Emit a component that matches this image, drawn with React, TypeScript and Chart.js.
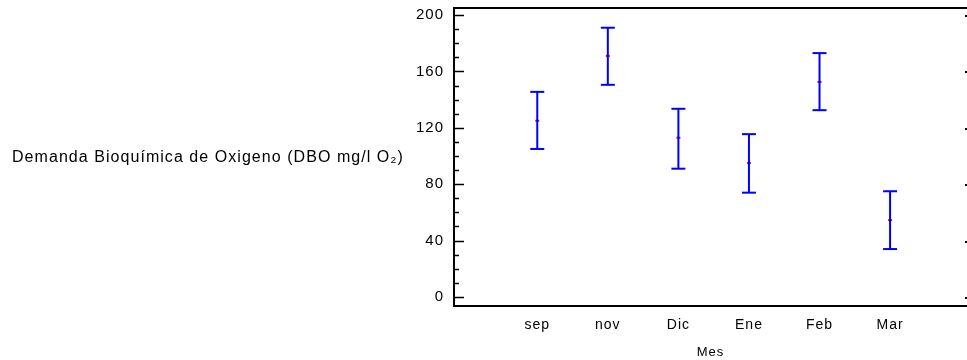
import React, { useEffect, useRef } from "react";
import { Chart, registerables } from "chart.js";

Chart.register(...registerables);

const categories = ["sep", "nov", "Dic", "Ene", "Feb", "Mar"];
const means = [125, 171, 113, 95, 152.5, 54.5];
const lowers = [105, 150.5, 91, 74, 132.5, 34];
const uppers = [145.5, 191, 133.5, 115.5, 173, 75];
const yMajorTicks = [0, 40, 80, 120, 160, 200];
const yMinorTicks = [10, 20, 30, 50, 60, 70, 90, 100, 110, 130, 140, 150, 170, 180, 190];
const yTitle = "Demanda Bioquímica de Oxigeno (DBO mg/l O₂)";
const xTitle = "Mes";

const FONT = "Arial, 'Liberation Sans', sans-serif";

export default function App() {
  const ref = useRef<HTMLCanvasElement | null>(null);

  useEffect(() => {
    document.body.style.margin = "0";
    const canvas = ref.current;
    if (!canvas) return;

    const barData: any[] = [];
    categories.forEach((_, i) => {
      barData.push({ x: i, y: lowers[i] });
      barData.push({ x: i, y: uppers[i] });
      barData.push({ x: i, y: null });
    });
    const meanData = categories.map((_, i) => ({ x: i, y: means[i] }));

    const spacingPlugin = {
      id: "spacing",
      beforeLayout(chart: any) {
        (chart.ctx as any).letterSpacing = "1px";
      },
      beforeDraw(chart: any) {
        (chart.ctx as any).letterSpacing = "1px";
      },
    };

    const framePlugin = {
      id: "frame",
      afterDraw(chart: any) {
        const { ctx, chartArea } = chart;
        const ys = chart.scales.y;
        ctx.save();
        ctx.strokeStyle = "#000";
        ctx.lineWidth = 2;
        ctx.beginPath();
        ctx.moveTo(chartArea.left, chartArea.top);
        ctx.lineTo(chartArea.right, chartArea.top);
        ctx.stroke();
        ctx.lineWidth = 1.5;
        yMajorTicks.forEach((v) => {
          const p = Math.round(ys.getPixelForValue(v)) + 0.5;
          ctx.beginPath();
          ctx.moveTo(chartArea.left, p);
          ctx.lineTo(chartArea.left + 10, p);
          ctx.stroke();
        });
        yMinorTicks.forEach((v) => {
          const p = Math.round(ys.getPixelForValue(v)) + 0.5;
          ctx.beginPath();
          ctx.moveTo(chartArea.left, p);
          ctx.lineTo(chartArea.left + 5, p);
          ctx.stroke();
        });
        ctx.fillStyle = "#000";
        yMajorTicks.forEach((v) => {
          const p = Math.round(ys.getPixelForValue(v));
          ctx.fillRect(chartArea.right - 2, p, 2, 2);
        });
        ctx.font = `16px ${FONT}`;
        ctx.textBaseline = "middle";
        ctx.textAlign = "left";
        (ctx as any).letterSpacing = "1.05px";
        ctx.fillText(yTitle, 12, ys.getPixelForValue(99));
        ctx.restore();
      },
    };

    const chart = new Chart(canvas, {
      type: "scatter",
      data: {
        datasets: [
          {
            type: "line",
            data: barData,
            borderColor: "#0000ff",
            borderWidth: 2,
            spanGaps: false,
            pointStyle: "line",
            pointRadius: 7,
            pointBorderWidth: 2,
            pointBorderColor: "#0000ff",
            pointBackgroundColor: "#0000ff",
            showLine: true,
          } as any,
          {
            data: meanData,
            pointStyle: "line",
            pointRadius: 2,
            pointBorderWidth: 2,
            pointBorderColor: "#c0104a",
            pointBackgroundColor: "#c0104a",
          } as any,
        ],
      },
      options: {
        animation: false,
        responsive: true,
        maintainAspectRatio: false,
        layout: { autoPadding: false, padding: { top: 8, right: 0, left: 0, bottom: 0 } },
        plugins: { legend: { display: false }, tooltip: { enabled: false } },
        scales: {
          x: {
            type: "linear",
            min: -1.18,
            max: 6.09,
            afterBuildTicks: (s: any) => {
              s.ticks = categories.map((_, i) => ({ value: i }));
            },
            afterFit: (s: any) => {
              s.height = 54;
              s.paddingLeft = 0;
              s.paddingRight = 0;
            },
            ticks: {
              autoSkip: false,
              maxRotation: 0,
              color: "#000",
              font: { family: FONT, size: 14 },
              padding: 11,
              callback: (v: any) => categories[v] ?? "",
            },
            grid: { display: false, drawTicks: false },
            border: { display: true, color: "#000", width: 2 },
            title: {
              display: true,
              text: xTitle,
              color: "#000",
              font: { family: FONT, size: 13 },
              padding: { top: 6, bottom: 0 },
            },
          },
          y: {
            type: "linear",
            min: -6.4,
            max: 205,
            afterBuildTicks: (s: any) => {
              s.ticks = yMajorTicks.map((v) => ({ value: v }));
            },
            afterFit: (s: any) => {
              s.width = 454;
              s.paddingTop = 0;
              s.paddingBottom = 0;
            },
            ticks: {
              autoSkip: false,
              color: "#000",
              font: { family: FONT, size: 15 },
              padding: 10,
            },
            grid: { display: false, drawTicks: false },
            border: { display: true, color: "#000", width: 2 },
          },
        },
      },
      plugins: [spacingPlugin, framePlugin],
    });

    return () => chart.destroy();
  }, []);

  return (
    <div style={{ position: "relative", width: 967, height: 360 }}>
      <canvas ref={ref} />
    </div>
  );
}
